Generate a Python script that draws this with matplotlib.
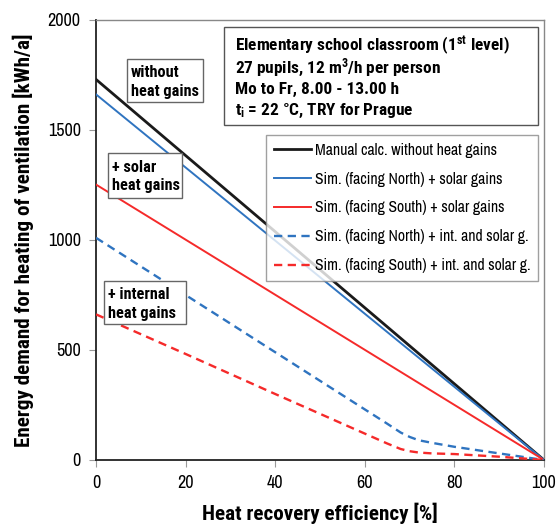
import matplotlib
matplotlib.use("Agg")
import matplotlib.pyplot as plt
from matplotlib import font_manager as fm
from matplotlib.patches import Rectangle

# ---- data ----
eff_solid = [0, 100]
manual_calc = [1730, 0]
north_solar = [1662, 0]
south_solar = [1252, 0]

eff_dashed = [0, 10, 20, 30, 40, 50, 60, 65, 68, 70, 72, 75, 80, 90, 100]
north_int_solar = [1010, 880, 750, 620, 490, 360, 230, 165, 125, 105, 90, 78, 60, 30, 0]
south_int_solar = [662, 572, 482, 391, 300, 210, 120, 75, 50, 40, 34, 30, 27, 15, 0]

series_labels = ["Manual calc. without heat gains",
                 "Sim. (facing North) + solar gains",
                 "Sim. (facing South) + solar gains",
                 "Sim. (facing North) + int. and solar g.",
                 "Sim. (facing South) + int. and solar g."]
x_ticks = [0, 20, 40, 60, 80, 100]
y_ticks = [0, 500, 1000, 1500, 2000]

info_lines = ["Elementary school classroom (1$^{\\mathbf{st}}$ level)",
              "27 pupils, 12 m$^{\\mathbf{3}}$/h per person",
              "Mo to Fr, 8.00 - 13.00 h",
              "t$_{\\mathbf{i}}$ = 22 °C, TRY for Prague"]
note_without = ["without", "heat gains"]
note_solar = ["+ solar", "heat gains"]
note_internal = ["+ internal", "heat gains"]

# ---- fonts ----
entries = fm.fontManager.ttflist
names = set(f.name for f in entries)
bold_names = set(f.name for f in entries if (f.weight if isinstance(f.weight, int) else 400) >= 600
                 or str(f.weight) in ('bold', 'heavy', 'black', 'semibold', 'demibold'))

REG = 'Liberation Sans'
for cand in ['Arial Narrow', 'Liberation Sans Narrow', 'Archivo Narrow', 'Roboto Condensed', 'Liberation Sans']:
    if cand in names:
        REG = cand
        break
BOLD = 'Liberation Sans'
for cand in ['Arial Narrow', 'Liberation Sans Narrow', 'Roboto Condensed', 'Liberation Sans']:
    if cand in bold_names:
        BOLD = cand
        break

plt.rcParams['font.family'] = [REG, 'DejaVu Sans']
plt.rcParams['mathtext.fontset'] = 'custom'
plt.rcParams['mathtext.rm'] = BOLD
plt.rcParams['mathtext.bf'] = BOLD + ':bold'
plt.rcParams['mathtext.it'] = BOLD + ':italic'

fig = plt.figure(figsize=(5.56, 5.28), dpi=100)
ax = fig.add_axes([96/556, 68/528, 448/556, 440/528])

BLACK = '#1a1a1a'
BLUE = '#2f74c0'
RED = '#f52a2a'

ax.plot(eff_solid, manual_calc, color=BLACK, lw=2.0, label=series_labels[0], zorder=3)
ax.plot(eff_solid, north_solar, color=BLUE, lw=1.4, label=series_labels[1], zorder=3)
ax.plot(eff_solid, south_solar, color=RED, lw=1.4, label=series_labels[2], zorder=3)
ax.plot(eff_dashed, north_int_solar, color=BLUE, lw=1.7, dashes=(3.5, 2.3), label=series_labels[3], zorder=3)
ax.plot(eff_dashed, south_int_solar, color=RED, lw=1.7, dashes=(3.5, 2.3), label=series_labels[4], zorder=3)

ax.set_xlim(0, 100)
ax.set_ylim(0, 2000)
ax.set_xticks(x_ticks)
ax.set_yticks(y_ticks)
ax.tick_params(axis='both', direction='out', length=5, color='#999999', labelsize=13, pad=6)
for s in ['top', 'right']:
    ax.spines[s].set_color('#888888')
    ax.spines[s].set_linewidth(1.0)
for s in ['left', 'bottom']:
    ax.spines[s].set_color('#222222')
    ax.spines[s].set_linewidth(1.3)

ax.set_xlabel("Heat recovery efficiency [%]", fontsize=15.2, fontweight='bold',
              family=[BOLD, 'DejaVu Sans'], labelpad=8)
ax.set_ylabel("Energy demand for heating of ventilation [kWh/a]", fontsize=15.2, fontweight='bold',
              family=[BOLD, 'DejaVu Sans'], labelpad=10)


def text_box(x0, x1, y_top, y_bot, tx, baselines, lines, size, ec='#666666'):
    ax.add_patch(Rectangle((x0, y_bot), x1 - x0, y_top - y_bot, transform=ax.transAxes,
                           fc='white', ec=ec, lw=1.0, zorder=5, clip_on=False))
    for yb, s in zip(baselines, lines):
        ax.text(tx, yb, s, transform=ax.transAxes, fontsize=size, fontweight='bold',
                family=[BOLD, 'DejaVu Sans'], va='baseline', ha='left', zorder=6)


text_box(0.0685, 0.2395, 0.9114, 0.8143, 0.0781, [0.8711, 0.8280], note_without, 11.7)
text_box(0.0275, 0.1920, 0.6970, 0.5961, 0.0357, [0.6552, 0.6136], note_solar, 11.7)
text_box(0.0185, 0.2009, 0.4068, 0.3084, 0.0275, [0.3652, 0.3220], note_internal, 11.7)
text_box(0.2857, 0.9866, 0.9834, 0.7614, 0.3109, [0.9280, 0.8800, 0.8318, 0.7841], info_lines, 12.4,
         ec='#555555')

leg = ax.legend(loc='upper right', bbox_to_anchor=(0.9866, 0.7386), fontsize=11.3,
                frameon=True, fancybox=False, edgecolor='#888888', handlelength=2.4,
                handletextpad=0.2, labelspacing=0.88, borderpad=0.5, borderaxespad=0.0)
leg.get_frame().set_linewidth(1.0)
leg.set_zorder(7)

fig.savefig("out.png", dpi=100)
